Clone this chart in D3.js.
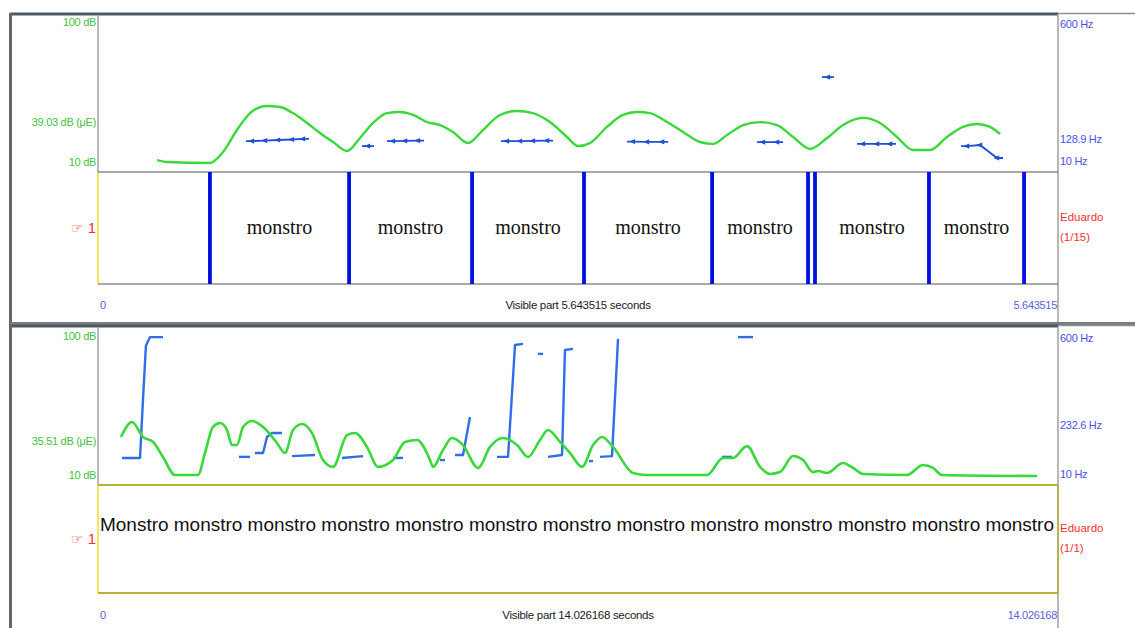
<!DOCTYPE html>
<html>
<head>
<meta charset="utf-8">
<script src="https://cdn.jsdelivr.net/npm/d3@7/dist/d3.min.js"></script>
<style>
  html, body { margin: 0; padding: 0; background: #fff; }
  svg { display: block; }
</style>
</head>
<body>
<svg id="chart" width="1135" height="628"></svg>
<script>
// ---- Editor 1: segmented TextGrid (5.643515 s) ----
const topDuration = 5.643515;
const topDbTicks = [10, 39.03, 100];
const topDbLabels = ["10 dB", "39.03 dB (\u03bcE)", "100 dB"];
const topHzTicks = [10, 128.9, 600];
const topHzLabels = ["10 Hz", "128.9 Hz", "600 Hz"];
const topSpeaker = ["Eduardo", "(1/15)"];

// intensity contour: [time s, dB]
const topIntensity = [
  [0.347, 16.9], [0.406, 15.8], [0.658, 15.2], [0.735, 21.5], [0.817, 34.2],
  [0.894, 44.0], [0.993, 48.1], [1.070, 47.5], [1.146, 44.0], [1.229, 38.3],
  [1.305, 32.5], [1.382, 27.3], [1.464, 22.1], [1.540, 29.6], [1.617, 38.3],
  [1.699, 44.0], [1.775, 44.6], [1.852, 42.9], [1.934, 38.8], [2.011, 37.1],
  [2.087, 33.1], [2.175, 26.7], [2.263, 34.2], [2.363, 42.9], [2.463, 45.2],
  [2.557, 44.0], [2.657, 38.8], [2.757, 30.2], [2.822, 25.0], [2.892, 26.7],
  [2.992, 36.0], [3.086, 42.9], [3.169, 44.6], [3.245, 44.0], [3.345, 38.8],
  [3.439, 33.1], [3.539, 27.3], [3.615, 26.2], [3.698, 31.3], [3.792, 37.1],
  [3.892, 38.8], [3.992, 37.1], [4.086, 30.2], [4.186, 23.3], [4.286, 29.6],
  [4.380, 37.1], [4.497, 41.2], [4.597, 38.3], [4.697, 30.2], [4.791, 22.7],
  [4.891, 22.7], [4.991, 30.2], [5.085, 36.0], [5.167, 37.7], [5.244, 36.0],
  [5.303, 31.9]
];

// pitch pulses grouped into voiced stretches: [time s, Hz]
const topPitch = [
  [[0.905, 127], [0.982, 129], [1.058, 131], [1.140, 133], [1.205, 135]],
  [[1.587, 108]],
  [[1.734, 127], [1.805, 128], [1.881, 129]],
  [[2.404, 127], [2.481, 127], [2.557, 128], [2.640, 129]],
  [[3.145, 125], [3.227, 124], [3.316, 124]],
  [[3.909, 123], [3.992, 123]],
  [[4.291, 369]],
  [[4.497, 116], [4.580, 116], [4.656, 116]],
  [[5.109, 108], [5.185, 112], [5.285, 63]]
];

// interval tier: boundaries (s) and the label of each interval
const topBoundaries = [0.658, 1.476, 2.199, 2.857, 3.610, 4.174, 4.215, 4.885, 5.444];
const topWords = ["", "monstro", "monstro", "monstro", "monstro", "monstro", "", "monstro", "monstro", ""];

// ---- Editor 2: whole recording (14.026168 s) ----
const bottomDuration = 14.026168;
const bottomDbTicks = [10, 35.51, 100];
const bottomDbLabels = ["10 dB", "35.51 dB (\u03bcE)", "100 dB"];
const bottomHzTicks = [10, 232.6, 600];
const bottomHzLabels = ["10 Hz", "232.6 Hz", "600 Hz"];
const bottomSpeaker = ["Eduardo", "(1/1)"];

const bottomIntensity = [
  [0.336, 37.9], [0.497, 46.6], [0.657, 37.9], [0.804, 35.0], [0.950, 26.3],
  [1.125, 15.8], [1.461, 15.8], [1.563, 28.6], [1.680, 43.7], [1.783, 46.0],
  [1.885, 41.9], [1.958, 33.2], [2.031, 33.2], [2.119, 43.7], [2.250, 47.2],
  [2.411, 43.7], [2.615, 34.4], [2.732, 28.6], [2.849, 41.9], [2.981, 45.4],
  [3.127, 40.2], [3.287, 24.5], [3.434, 20.5], [3.638, 39.0], [3.755, 40.2],
  [3.930, 32.1], [4.091, 20.5], [4.310, 24.5], [4.486, 35.0], [4.661, 36.1],
  [4.851, 24.5], [4.895, 20.5], [5.041, 30.3], [5.172, 37.3], [5.333, 33.2],
  [5.552, 19.9], [5.728, 32.1], [5.917, 37.3], [6.122, 33.2], [6.283, 26.3],
  [6.458, 36.1], [6.575, 41.9], [6.750, 35.0], [6.896, 28.6], [7.072, 20.5],
  [7.233, 33.2], [7.364, 37.9], [7.525, 32.1], [7.817, 17.0], [8.022, 15.8],
  [8.898, 15.8], [9.132, 25.7], [9.278, 25.7], [9.483, 32.6], [9.673, 20.5],
  [9.819, 16.4], [9.965, 17.5], [10.155, 26.8], [10.301, 24.5], [10.447, 17.5],
  [10.520, 18.1], [10.652, 17.0], [10.885, 22.8], [11.031, 19.9], [11.177, 16.4],
  [11.820, 15.8], [12.054, 21.6], [12.200, 19.9], [12.331, 15.8], [13.720, 15.2]
];

const bottomPitch = [
  [[0.351, 113], [0.614, 113], [0.657, 333], [0.700, 540], [0.760, 573], [0.950, 573]],
  [[2.060, 117], [2.221, 117]],
  [[2.294, 132], [2.411, 132], [2.469, 193], [2.542, 208], [2.688, 208]],
  [[2.835, 120], [3.171, 124]],
  [[3.565, 113], [3.872, 120]],
  [[4.310, 113], [4.456, 113]],
  [[4.997, 105], [5.070, 105]],
  [[5.216, 124], [5.333, 124], [5.435, 269]],
  [[5.830, 117], [5.991, 117], [6.093, 543], [6.210, 547]],
  [[6.429, 509], [6.502, 509]],
  [[6.575, 117], [6.780, 124], [6.823, 524], [6.940, 528]],
  [[7.174, 101], [7.233, 101]],
  [[7.335, 117], [7.510, 120], [7.598, 566]],
  [[9.117, 117], [9.264, 117]],
  [[9.351, 573], [9.570, 573]]
];

const bottomWords = ["Monstro", "monstro", "monstro", "monstro", "monstro", "monstro",
  "monstro", "monstro", "monstro", "monstro", "monstro", "monstro", "monstro"];

// ---- drawing ----
const svg = d3.select("#chart");
const W = 1135;
const X0 = 98, X1 = 1058;
const green = "#3ad83a", labelGreen = "#44c044", hzBlue = "#5050e8", red = "#ff3030";
const sans = "'Liberation Sans', Arial, sans-serif";

function panel(cfg) {
  const g = svg.append("g");
  const x = d3.scaleLinear().domain([0, cfg.duration]).range([X0, X1]);
  const yDb = d3.scaleLinear().domain([10, 100]).range([cfg.plotBottom, cfg.plotTop]);
  const yHz = d3.scaleLinear().domain([10, 600]).range([cfg.plotBottom, cfg.plotTop]);

  // outer window frame
  g.append("rect").attr("x", 10).attr("y", cfg.frameTop).attr("width", W - 10)
    .attr("height", cfg.frameBottom - cfg.frameTop).attr("fill", "#fff");
  g.append("line").attr("x1", 10).attr("x2", X1).attr("y1", cfg.frameTop + 1).attr("y2", cfg.frameTop + 1)
    .attr("stroke", "#4c5862").attr("stroke-width", 3);
  g.append("line").attr("x1", X1).attr("x2", W).attr("y1", cfg.frameTop + 0.5).attr("y2", cfg.frameTop + 0.5)
    .attr("stroke", "#8a8f94").attr("stroke-width", 1.5);
  g.append("line").attr("x1", 10.5).attr("x2", 10.5).attr("y1", cfg.frameTop).attr("y2", cfg.frameBottom)
    .attr("stroke", "#666").attr("stroke-width", 3);

  // plot area borders
  g.append("line").attr("x1", X0).attr("x2", X0).attr("y1", cfg.frameTop + 2).attr("y2", cfg.plotBottom)
    .attr("stroke", "#a0a0a0").attr("stroke-width", 1.5);
  g.append("line").attr("x1", X1).attr("x2", X1).attr("y1", cfg.frameTop + 2).attr("y2", cfg.frameBottom)
    .attr("stroke", "#a0a0a0").attr("stroke-width", 1.5);

  // tier box
  g.append("line").attr("x1", X0).attr("x2", X0).attr("y1", cfg.plotBottom).attr("y2", cfg.tierBottom)
    .attr("stroke", "#f0e020").attr("stroke-width", 1.5);
  g.selectAll(null).data([cfg.plotBottom, cfg.tierBottom]).join("line")
    .attr("x1", X0).attr("x2", X1).attr("y1", d => d).attr("y2", d => d)
    .attr("stroke", cfg.tierLine).attr("stroke-width", cfg.tierLineWidth);
  if (cfg.tierRight) {
    g.append("line").attr("x1", X1).attr("x2", X1).attr("y1", cfg.plotBottom).attr("y2", cfg.tierBottom)
      .attr("stroke", cfg.tierLine).attr("stroke-width", 1.5);
  }

  // dB axis (left) and Hz axis (right) labels
  const dbPos = [cfg.plotBottom - 10, null, cfg.plotTop + 6];
  g.selectAll(null).data(cfg.dbTicks).join("text")
    .attr("x", X0 - 2).attr("y", (d, i) => dbPos[i] === null ? yDb(d) : dbPos[i])
    .attr("dy", "0.35em").attr("text-anchor", "end")
    .attr("font-family", sans).attr("font-size", 11).attr("fill", labelGreen)
    .attr("letter-spacing", -0.3)
    .text((d, i) => cfg.dbLabels[i]);
  const hzPos = [cfg.plotBottom - 11, null, cfg.plotTop + 8];
  g.selectAll(null).data(cfg.hzTicks).join("text")
    .attr("x", X1 + 2).attr("y", (d, i) => hzPos[i] === null ? yHz(d) - 1.5 : hzPos[i])
    .attr("dy", "0.35em")
    .attr("font-family", sans).attr("font-size", 11).attr("fill", hzBlue)
    .attr("letter-spacing", -0.3)
    .text((d, i) => cfg.hzLabels[i]);

  // tier name + speaker
  const tierMid = (cfg.plotBottom + cfg.tierBottom) / 2;
  const t1 = g.append("text").attr("x", X0 - 2).attr("y", tierMid - 1).attr("dy", "0.35em")
    .attr("text-anchor", "end").attr("fill", red).attr("font-family", "'DejaVu Sans', sans-serif");
  t1.append("tspan").attr("font-size", 14).text("\u261e ");
  t1.append("tspan").attr("font-size", 15).attr("font-family", sans).text("1");
  g.selectAll(null).data(cfg.speaker).join("text")
    .attr("x", X1 + 2).attr("y", (d, i) => tierMid - 11 + i * 20).attr("dy", "0.35em")
    .attr("font-family", sans).attr("font-size", 11.5).attr("fill", red)
    .text(d => d);

  // time axis labels
  g.append("text").attr("x", X0 + 2).attr("y", cfg.timeY).attr("dy", "0.35em")
    .attr("font-family", sans).attr("font-size", 11).attr("fill", "#6060e0").text("0");
  g.append("text").attr("x", X1 - 1).attr("y", cfg.timeY).attr("dy", "0.35em").attr("text-anchor", "end")
    .attr("font-family", sans).attr("font-size", 11).attr("fill", "#6060e0")
    .attr("letter-spacing", -0.3).text(String(cfg.duration));
  g.append("text").attr("x", (X0 + X1) / 2).attr("y", cfg.timeY).attr("dy", "0.35em")
    .attr("text-anchor", "middle").attr("font-family", sans).attr("font-size", 11.5)
    .attr("fill", "#222").attr("letter-spacing", -0.3)
    .text(`Visible part ${cfg.duration} seconds`);

  // bottom separator bar
  g.append("rect").attr("x", 10).attr("y", cfg.frameBottom - 3).attr("width", W - 10).attr("height", 4)
    .attr("fill", "#7a7d80");

  return { g, x, yDb, yHz };
}

// ---- top editor ----
const P1 = panel({
  duration: topDuration, frameTop: 13, frameBottom: 325,
  plotTop: 16, plotBottom: 172, tierBottom: 284, timeY: 305,
  dbTicks: topDbTicks, dbLabels: topDbLabels, hzTicks: topHzTicks, hzLabels: topHzLabels,
  speaker: topSpeaker, tierLine: "#555", tierLineWidth: 1.2, tierRight: false
});

P1.g.append("path").datum(topIntensity)
  .attr("fill", "none").attr("stroke", green).attr("stroke-width", 2.4)
  .attr("d", d3.line().x(d => P1.x(d[0])).y(d => P1.yDb(d[1])).curve(d3.curveMonotoneX));

const pitchDark = "#1f4ed8";
const pulseMark = { draw(ctx, size) { const w = 3.6, h = 2.6; ctx.moveTo(-w, 0); ctx.lineTo(w * 0.6, -h); ctx.lineTo(w * 0.6, h); ctx.closePath(); } };
P1.g.selectAll(null).data(topPitch).join("path")
  .attr("fill", "none").attr("stroke", pitchDark).attr("stroke-width", 1.8)
  .attr("d", seg => {
    const pts = seg.map(d => [P1.x(d[0]), P1.yHz(d[1])]);
    const first = pts[0], last = pts[pts.length - 1];
    const ext = [[first[0] - 6, first[1]], ...pts, [last[0] + 6, last[1]]];
    return d3.line()(ext);
  });
P1.g.selectAll(null).data(topPitch.flat()).join("path")
  .attr("transform", d => `translate(${P1.x(d[0])},${P1.yHz(d[1])})`)
  .attr("fill", pitchDark)
  .attr("d", d3.symbol().type(pulseMark)());

// word boundaries
P1.g.selectAll(null).data(topBoundaries).join("line")
  .attr("x1", d => P1.x(d)).attr("x2", d => P1.x(d))
  .attr("y1", 172).attr("y2", 284)
  .attr("stroke", "#0010e0").attr("stroke-width", 3.8);
const topEdges = [0, ...topBoundaries, topDuration];
P1.g.selectAll(null).data(topWords.map((w, i) => ({ w, a: topEdges[i], b: topEdges[i + 1] })).filter(d => d.w))
  .join("text")
  .attr("x", d => P1.x((d.a + d.b) / 2)).attr("y", 228).attr("dy", "0.32em")
  .attr("text-anchor", "middle")
  .attr("font-family", "'Liberation Serif', 'Times New Roman', serif").attr("font-size", 20)
  .attr("fill", "#111")
  .text(d => d.w);

// ---- bottom editor ----
const P2 = panel({
  duration: bottomDuration, frameTop: 325, frameBottom: 632,
  plotTop: 330, plotBottom: 485, tierBottom: 593, timeY: 615,
  dbTicks: bottomDbTicks, dbLabels: bottomDbLabels, hzTicks: bottomHzTicks, hzLabels: bottomHzLabels,
  speaker: bottomSpeaker, tierLine: "#b8b038", tierLineWidth: 2, tierRight: true
});

P2.g.selectAll(null).data(bottomPitch).join("path")
  .attr("fill", "none").attr("stroke", "#2f6ee8").attr("stroke-width", 2.4)
  .attr("stroke-linejoin", "round")
  .attr("d", d3.line().x(d => P2.x(d[0])).y(d => P2.yHz(d[1])));

P2.g.append("path").datum(bottomIntensity)
  .attr("fill", "none").attr("stroke", green).attr("stroke-width", 2.6)
  .attr("d", d3.line().x(d => P2.x(d[0])).y(d => P2.yDb(d[1])).curve(d3.curveMonotoneX));

P2.g.append("text")
  .attr("x", X0 + 2).attr("y", 525).attr("dy", "0.35em")
  .attr("font-family", sans).attr("font-size", 18.5).attr("fill", "#111")
  .attr("textLength", 954).attr("lengthAdjust", "spacingAndGlyphs")
  .text(bottomWords.join(" "));
</script>
</body>
</html>
